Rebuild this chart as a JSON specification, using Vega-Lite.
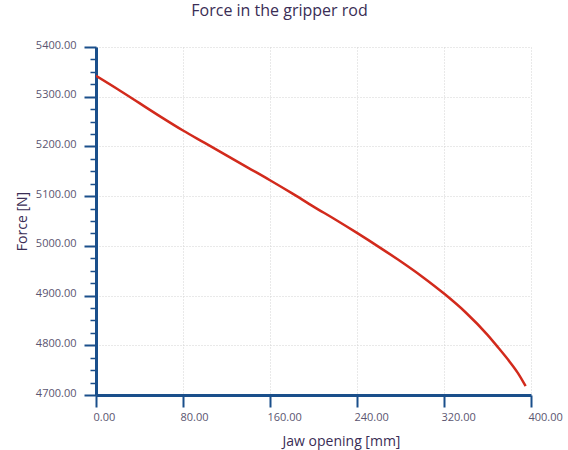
{
  "$schema": "https://vega.github.io/schema/vega-lite/v6.json",
  "autosize": {"type": "none"},
  "padding": {"left": 96, "top": 47, "right": 37, "bottom": 55},
  "width": 435,
  "height": 348,
  "background": "white",
  "title": {
    "text": "Force in the gripper rod",
    "font": "Open Sans",
    "fontSize": 16,
    "fontWeight": "normal",
    "color": "#3a2d55",
    "offset": 20,
    "dx": -34
  },
  "data": {
    "values": [
      {"opening": 0, "force": 5342},
      {"opening": 20, "force": 5315},
      {"opening": 40, "force": 5287},
      {"opening": 60, "force": 5259},
      {"opening": 80, "force": 5232},
      {"opening": 100, "force": 5207},
      {"opening": 120, "force": 5182},
      {"opening": 140, "force": 5157},
      {"opening": 160, "force": 5132},
      {"opening": 180, "force": 5106},
      {"opening": 200, "force": 5079},
      {"opening": 220, "force": 5053},
      {"opening": 240, "force": 5026},
      {"opening": 260, "force": 4998},
      {"opening": 280, "force": 4969},
      {"opening": 300, "force": 4938},
      {"opening": 320, "force": 4904},
      {"opening": 340, "force": 4866},
      {"opening": 360, "force": 4821},
      {"opening": 370, "force": 4795},
      {"opening": 380, "force": 4768},
      {"opening": 388, "force": 4744},
      {"opening": 395, "force": 4718}
    ]
  },
  "mark": {"type": "line", "color": "#d22a1c", "strokeWidth": 2.5, "interpolate": "monotone", "clip": true},
  "encoding": {
    "x": {
      "field": "opening",
      "type": "quantitative",
      "scale": {"domain": [0, 400], "nice": false, "zero": false},
      "axis": {
        "title": "Jaw opening [mm]",
        "values": [0, 80, 160, 240, 320, 400],
        "format": ".2f",
        "domainColor": "#1a4f8b",
        "domainWidth": 3,
        "tickColor": "#1a4f8b",
        "tickWidth": 2,
        "tickSize": 12,
        "labelPadding": 4,
        "labelAlign": "left",
        "labelOffset": -3,
        "labelFlush": false,
        "labelFont": "Open Sans",
        "labelFontSize": 11,
        "labelColor": "#5b5570",
        "titleFont": "Open Sans",
        "titleFontSize": 14,
        "titleFontWeight": "normal",
        "titleColor": "#3a2d55",
        "titleBaseline": "alphabetic",
        "titleX": 245,
        "titleY": 50,
        "gridColor": "#d2d2d2",
        "gridDash": [1, 2],
        "gridWidth": 1
      }
    },
    "y": {
      "field": "force",
      "type": "quantitative",
      "scale": {"domain": [4700, 5400], "nice": false, "zero": false},
      "axis": {
        "title": "Force [N]",
        "values": [4700, 4725, 4750, 4775, 4800, 4825, 4850, 4875, 4900, 4925, 4950, 4975, 5000, 5025, 5050, 5075, 5100, 5125, 5150, 5175, 5200, 5225, 5250, 5275, 5300, 5325, 5350, 5375, 5400],
        "labelExpr": "datum.value % 100 === 0 ? format(datum.value, '.2f') : ''",
        "domainColor": "#1a4f8b",
        "domainWidth": 3,
        "tickColor": "#1a4f8b",
        "tickWidth": {"condition": {"test": "datum.value % 100 === 0", "value": 2}, "value": 1.5},
        "tickSize": {"condition": {"test": "datum.value % 100 === 0", "value": 12}, "value": 6},
        "labelPadding": 8,
        "labelOffset": -2,
        "labelFlush": false,
        "labelFont": "Open Sans",
        "labelFontSize": 11,
        "labelColor": "#5b5570",
        "titleFont": "Open Sans",
        "titleFontSize": 14,
        "titleFontWeight": "normal",
        "titleColor": "#3a2d55",
        "titleAngle": -90,
        "titleBaseline": "middle",
        "titleAlign": "center",
        "titleX": -74,
        "titleY": 174,
        "gridColor": "#d2d2d2",
        "gridDash": [1, 2],
        "gridWidth": 1,
        "gridOpacity": {"condition": {"test": "datum.value % 100 === 0", "value": 1}, "value": 0}
      }
    }
  },
  "config": {"view": {"stroke": null}}
}
